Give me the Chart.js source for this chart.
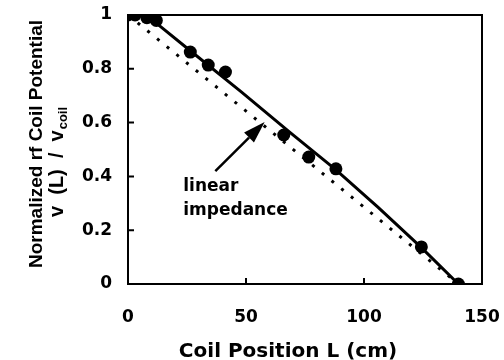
<!DOCTYPE html>
<html>
<head>
<meta charset="utf-8">
<title>rf coil potential</title>
<script src="https://cdn.jsdelivr.net/npm/chart.js@4.4.1/dist/chart.umd.min.js"></script>
<style>
  html, body { margin: 0; padding: 0; background: #fff; }
  #wrap { width: 504px; height: 360px; }
</style>
</head>
<body>
<div id="wrap"><canvas id="chart" width="504" height="360"></canvas></div>
<script>
// measured points: coil position (cm) / normalized potential
const measuredL = [0, 3, 8, 12, 26.4, 34, 41.3, 66, 76.6, 88.1, 124.3, 140];
const measuredV = [1, 1, 0.99, 0.98, 0.862, 0.814, 0.788, 0.554, 0.472, 0.428, 0.138, 0];

// solid curve
const modelL = [0, 4, 8, 12, 26, 48, 69, 88, 106, 124, 140];
const modelV = [1, 1, 0.995, 0.97, 0.87, 0.714, 0.561, 0.425, 0.285, 0.138, 0];

// dotted "linear impedance" line
const linearL = [0, 140];
const linearV = [1, 0];

const xTicks = [0, 50, 100, 150];
const yTicks = [0, 0.2, 0.4, 0.6, 0.8, 1];
const yTickLabels = ["0", "0.2", "0.4", "0.6", "0.8", "1"];

const toPoints = (xs, ys) => xs.map((v, i) => ({ x: v, y: ys[i] }));

// box round the plot + inward tick marks
const frame = {
    id: "frame",
    beforeDatasetsDraw(chart) {
        const { ctx, chartArea: a, scales: { x, y } } = chart;
        ctx.save();
        ctx.strokeStyle = "#000";
        ctx.lineWidth = 2;
        ctx.strokeRect(a.left, a.top, a.right - a.left, a.bottom - a.top);
        ctx.beginPath();
        yTicks.forEach(v => {
            const py = y.getPixelForValue(v);
            ctx.moveTo(a.left, py);
            ctx.lineTo(a.left + 6, py);
        });
        xTicks.forEach(v => {
            const px = x.getPixelForValue(v);
            ctx.moveTo(px, a.bottom);
            ctx.lineTo(px, a.bottom - 6);
        });
        ctx.stroke();
        ctx.restore();
    }
};

// axis titles, arrow and the "linear impedance" note
const notes = {
    id: "notes",
    afterDraw(chart) {
        const { ctx, scales: { x, y } } = chart;
        ctx.save();
        ctx.fillStyle = "#000";
        ctx.strokeStyle = "#000";

        // x title
        ctx.font = "bold 20px 'DejaVu Sans'";
        ctx.textAlign = "center";
        ctx.textBaseline = "alphabetic";
        ctx.fillText("Coil Position L (cm)", 288, 357);

        // y title, two rotated lines
        ctx.save();
        ctx.translate(42, 144);
        ctx.rotate(-Math.PI / 2);
        ctx.font = "bold 19px 'Liberation Sans'";
        ctx.fillText("Normalized rf Coil Potential", 0, 0);
        ctx.restore();

        ctx.save();
        ctx.translate(63, 217);
        ctx.rotate(-Math.PI / 2);
        ctx.textAlign = "left";
        ctx.font = "bold 20px 'Liberation Sans'";
        const main = "v  (L)  /  v";
        ctx.fillText(main, 0, 0);
        const w = ctx.measureText(main).width;
        ctx.font = "bold 13px 'Liberation Sans'";
        ctx.fillText("coil", w + 1, 4);
        ctx.restore();

        // arrow
        const tx = x.getPixelForValue(37), ty = y.getPixelForValue(0.42);
        const hx = x.getPixelForValue(57.9), hy = y.getPixelForValue(0.602);
        const ang = Math.atan2(hy - ty, hx - tx);
        const len = 22, half = 7;
        const bx = hx - len * Math.cos(ang), by = hy - len * Math.sin(ang);
        ctx.lineWidth = 2.5;
        ctx.beginPath();
        ctx.moveTo(tx, ty);
        ctx.lineTo(bx, by);
        ctx.stroke();
        ctx.beginPath();
        ctx.moveTo(hx, hy);
        ctx.lineTo(bx + half * Math.sin(ang), by - half * Math.cos(ang));
        ctx.lineTo(bx - half * Math.sin(ang), by + half * Math.cos(ang));
        ctx.closePath();
        ctx.fill();

        // note text
        ctx.font = "bold 17px 'DejaVu Sans'";
        ctx.textAlign = "left";
        const nx = x.getPixelForValue(23.4);
        ctx.fillText("linear", nx, y.getPixelForValue(0.345));
        ctx.fillText("impedance", nx, y.getPixelForValue(0.255));
        ctx.restore();
    }
};

const tickFont = { family: "'DejaVu Sans'", size: 17, weight: "bold" };

new Chart(document.getElementById("chart"), {
    type: "scatter",
    data: {
        datasets: [
            {
                label: "measured",
                data: toPoints(measuredL, measuredV),
                showLine: false,
                pointRadius: 6.5,
                pointBackgroundColor: "#000",
                pointBorderWidth: 0,
                order: 0
            },
            {
                label: "fit",
                data: toPoints(modelL, modelV),
                showLine: true,
                borderColor: "#000",
                borderWidth: 3,
                pointRadius: 0,
                tension: 0,
                order: 1
            },
            {
                label: "linear impedance",
                data: toPoints(linearL, linearV),
                showLine: true,
                borderColor: "#000",
                borderWidth: 3,
                borderDash: [3, 9.5],
                pointRadius: 0,
                order: 2
            }
        ]
    },
    options: {
        responsive: false,
        animation: false,
        layout: { padding: { top: 15, right: 22, left: 0, bottom: 0 } },
        plugins: { legend: { display: false }, tooltip: { enabled: false } },
        scales: {
            x: {
                type: "linear",
                min: 0,
                max: 150,
                afterFit: s => { s.height = 76; s.paddingLeft = 0; s.paddingRight = 0; },
                afterBuildTicks: s => { s.ticks = xTicks.map(v => ({ value: v })); },
                grid: { display: false, drawTicks: false },
                border: { display: false },
                ticks: { font: tickFont, color: "#000", padding: 23, maxRotation: 0 }
            },
            y: {
                type: "linear",
                min: 0,
                max: 1,
                afterFit: s => { s.width = 128; s.paddingTop = 0; s.paddingBottom = 0; },
                afterBuildTicks: s => { s.ticks = yTicks.map(v => ({ value: v })); },
                grid: { display: false, drawTicks: false },
                border: { display: false },
                ticks: {
                    font: tickFont,
                    color: "#000",
                    padding: 16,
                    callback: (v, i) => yTickLabels[i]
                }
            }
        }
    },
    plugins: [frame, notes]
});
</script>
</body>
</html>
